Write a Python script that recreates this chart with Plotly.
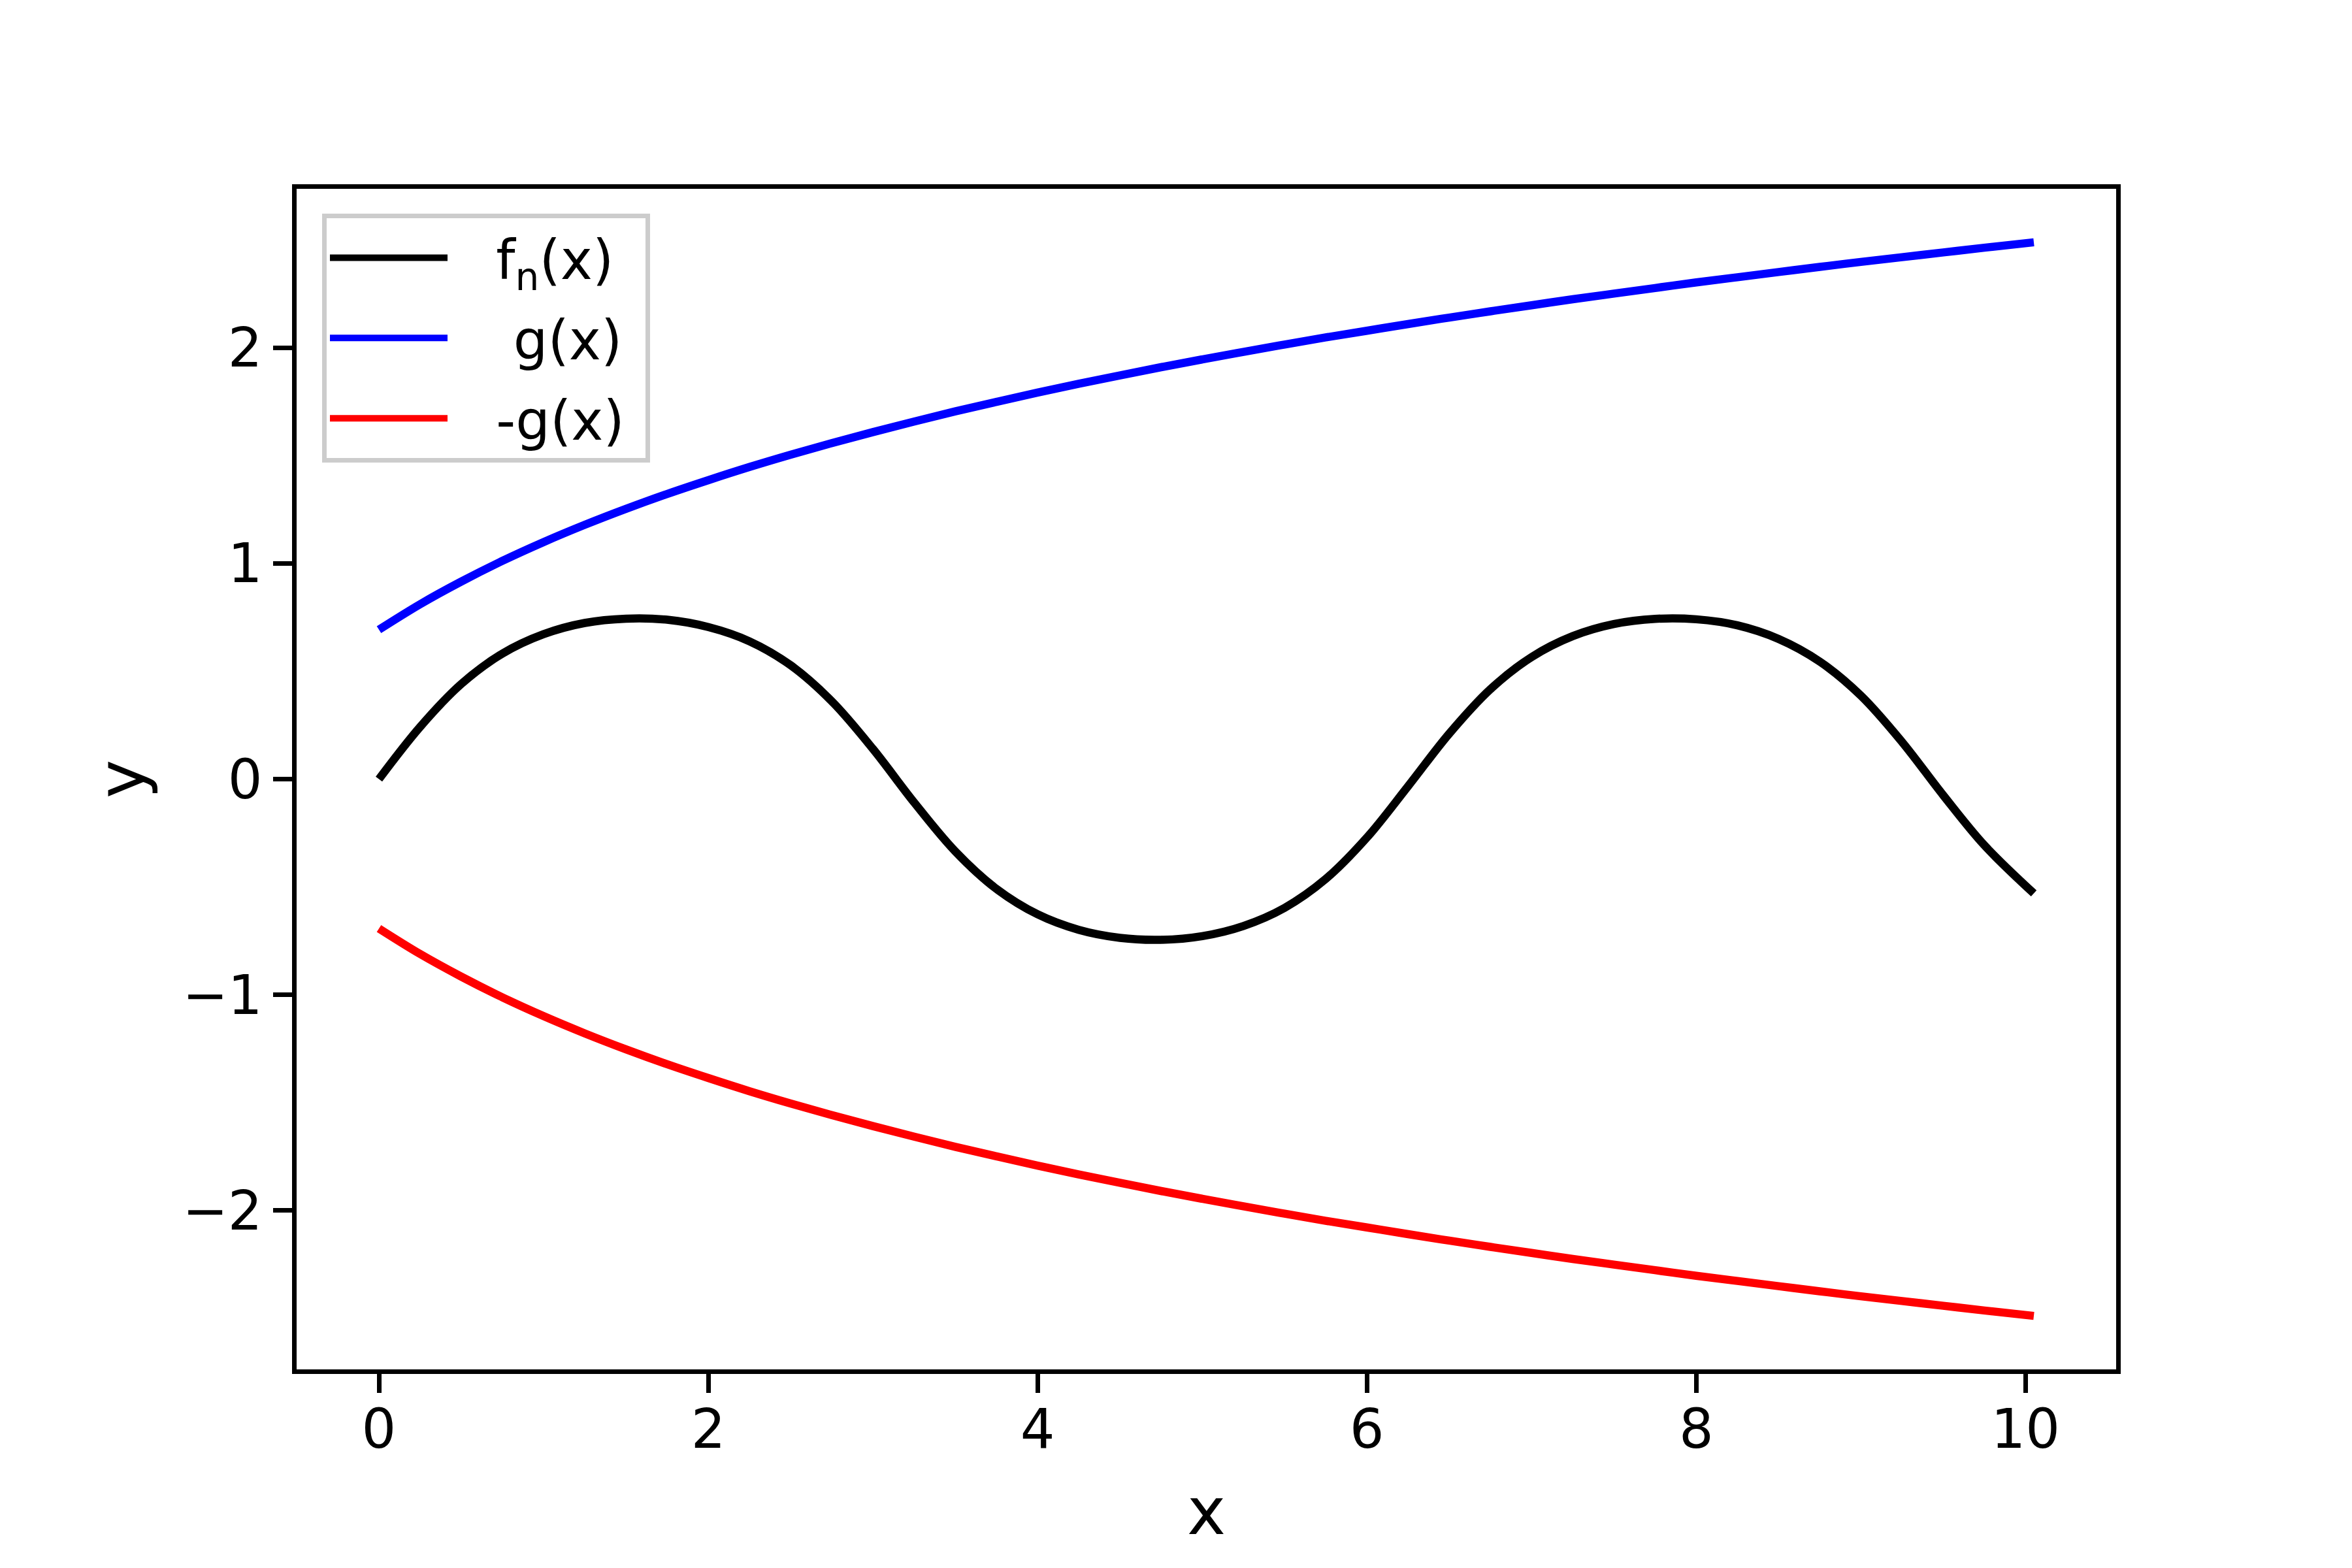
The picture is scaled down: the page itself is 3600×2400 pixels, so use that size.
import plotly.graph_objects as go

# sample positions along x
x_vals = [0, 0.25, 0.5, 0.75, 1.0, 1.25, 1.5, 1.75, 2.0, 2.25, 2.5, 2.75, 3.0,
          3.25, 3.5, 3.75, 4.0, 4.25, 4.5, 4.75, 5.0, 5.25, 5.5, 5.75, 6.0,
          6.25, 6.5, 6.75, 7.0, 7.25, 7.5, 7.75, 8.0, 8.25, 8.5, 8.75, 9.0,
          9.25, 9.5, 9.75, 10.05]
f_vals = [0.0, 0.242, 0.441, 0.582, 0.672, 0.724, 0.744, 0.739, 0.705, 0.639,
          0.528, 0.361, 0.140, -0.108, -0.335, -0.509, -0.627, -0.699, -0.736,
          -0.745, -0.728, -0.681, -0.597, -0.463, -0.271, -0.033, 0.211, 0.417,
          0.566, 0.663, 0.719, 0.743, 0.741, 0.713, 0.650, 0.545, 0.387, 0.172,
          -0.075, -0.307, -0.530]
g_vals = [0.693, 0.811, 0.916, 1.012, 1.099, 1.179, 1.253, 1.322, 1.386, 1.447,
          1.504, 1.558, 1.609, 1.658, 1.705, 1.749, 1.792, 1.833, 1.872, 1.910,
          1.946, 1.981, 2.015, 2.048, 2.079, 2.110, 2.140, 2.169, 2.197, 2.225,
          2.251, 2.277, 2.303, 2.327, 2.351, 2.375, 2.398, 2.420, 2.442, 2.464,
          2.489]
neg_g_vals = [-0.693, -0.811, -0.916, -1.012, -1.099, -1.179, -1.253, -1.322,
              -1.386, -1.447, -1.504, -1.558, -1.609, -1.658, -1.705, -1.749,
              -1.792, -1.833, -1.872, -1.910, -1.946, -1.981, -2.015, -2.048,
              -2.079, -2.110, -2.140, -2.169, -2.197, -2.225, -2.251, -2.277,
              -2.303, -2.327, -2.351, -2.375, -2.398, -2.420, -2.442, -2.464,
              -2.489]

x_ticks = [0, 2, 4, 6, 8, 10]
y_ticks = [-2, -1, 0, 1, 2]
names = ["f<sub>n</sub>(x)", "\u00a0g(x)", "-g(x)"]
colors = ["black", "#0000ff", "#ff0000"]

FONT = "DejaVu Sans"
LW = 12.5
PAD = "\u00a0\u00a0\u2009"
TAIL = "\u00a0"

fig = go.Figure()
for i, yv in enumerate([f_vals, g_vals, neg_g_vals]):
    fig.add_trace(go.Scatter(x=x_vals, y=yv, mode="lines", name=PAD + names[i] + TAIL,
                             legendgroup=f"g{i}",
                             line=dict(color=colors[i], width=LW, shape="spline",
                                       smoothing=1.0)))

axis_common = dict(
    showgrid=False, zeroline=False, showline=True, linecolor="black",
    linewidth=6.5, mirror=True, ticks="outside", ticklen=29, tickwidth=6.5,
    tickcolor="black", tickfont=dict(family=FONT, size=83, color="black"),
)

fig.update_layout(
    width=3600, height=2400,
    paper_bgcolor="white", plot_bgcolor="white",
    margin=dict(l=446, r=369, t=281, b=312, autoexpand=False),
    font=dict(family=FONT, size=83, color="black"),
    xaxis=dict(range=[-0.5, 10.55], tickvals=x_ticks, ticktext=[str(v) for v in x_ticks],
               ticklabelstandoff=-15,
               title=dict(text="x", font=dict(family=FONT, size=100), standoff=45),
               **axis_common),
    yaxis=dict(range=[-2.737, 2.737], tickvals=y_ticks,
               ticktext=[str(v).replace("-", "\u2212") for v in y_ticks],
               title=dict(text="y", font=dict(family=FONT, size=100), standoff=28),
               **axis_common),
    legend=dict(x=0.014, y=0.979, xanchor="left", yanchor="top",
                bgcolor="white", bordercolor="#cccccc", borderwidth=7,
                font=dict(family=FONT, size=83, color="black"),
                itemwidth=180, tracegroupgap=12),
    showlegend=True,
)

fig.write_html("out.html")
